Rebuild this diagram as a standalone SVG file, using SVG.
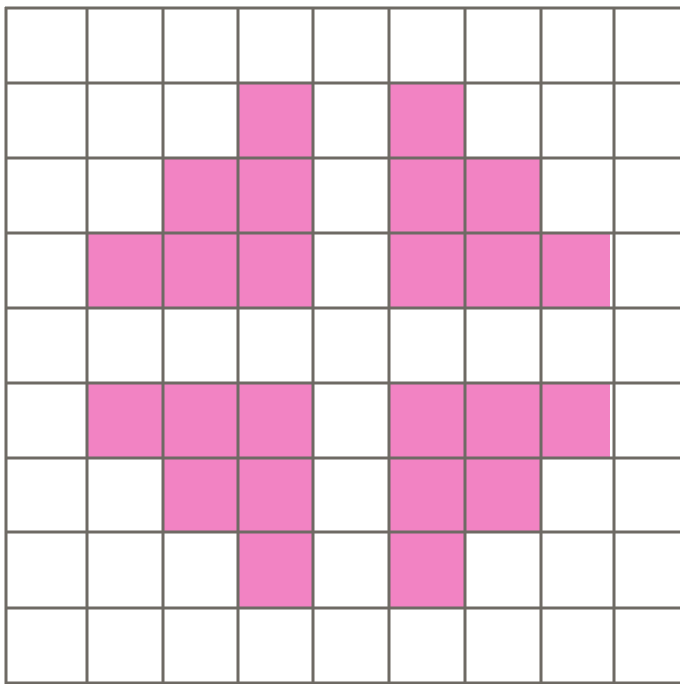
<svg xmlns="http://www.w3.org/2000/svg" width="680" height="684" viewBox="0 0 680 684">
<style>
.cell{fill:#f283c3}
.ln{stroke:#6e6a64;stroke-width:3;fill:none}
</style>
<rect width="680" height="684" fill="#ffffff"/>
<g id="cells">
<!-- row 1 -->
<rect class="cell" x="238" y="83" width="75" height="75"/>
<rect class="cell" x="389" y="83" width="76" height="75"/>
<!-- row 2 -->
<rect class="cell" x="163" y="158" width="75" height="75"/>
<rect class="cell" x="238" y="158" width="75" height="75"/>
<rect class="cell" x="389" y="158" width="76" height="75"/>
<rect class="cell" x="465" y="158" width="76" height="75"/>
<!-- row 3 -->
<rect class="cell" x="87" y="233" width="76" height="75"/>
<rect class="cell" x="163" y="233" width="75" height="75"/>
<rect class="cell" x="238" y="233" width="75" height="75"/>
<rect class="cell" x="389" y="233" width="76" height="75"/>
<rect class="cell" x="465" y="233" width="76" height="75"/>
<rect class="cell" x="541" y="233" width="69" height="75"/>
<!-- row 5 -->
<rect class="cell" x="87" y="383" width="76" height="75"/>
<rect class="cell" x="163" y="383" width="75" height="75"/>
<rect class="cell" x="238" y="383" width="75" height="75"/>
<rect class="cell" x="389" y="383" width="76" height="75"/>
<rect class="cell" x="465" y="383" width="76" height="75"/>
<rect class="cell" x="541" y="383" width="69" height="75"/>
<!-- row 6 -->
<rect class="cell" x="163" y="458" width="75" height="74"/>
<rect class="cell" x="238" y="458" width="75" height="74"/>
<rect class="cell" x="389" y="458" width="76" height="74"/>
<rect class="cell" x="465" y="458" width="76" height="74"/>
<!-- row 7 -->
<rect class="cell" x="238" y="532" width="75" height="76"/>
<rect class="cell" x="389" y="532" width="76" height="76"/>
</g>
<g id="grid" class="ln">
<line x1="6" y1="7" x2="6" y2="684"/>
<line x1="87" y1="7" x2="87" y2="684"/>
<line x1="163" y1="7" x2="163" y2="684"/>
<line x1="238" y1="7" x2="238" y2="684"/>
<line x1="313" y1="7" x2="313" y2="684"/>
<line x1="389" y1="7" x2="389" y2="684"/>
<line x1="465" y1="7" x2="465" y2="684"/>
<line x1="541" y1="7" x2="541" y2="684"/>
<line x1="614" y1="7" x2="614" y2="684"/>
<line x1="5" y1="8" x2="680" y2="8"/>
<line x1="5" y1="83" x2="680" y2="83"/>
<line x1="5" y1="158" x2="680" y2="158"/>
<line x1="5" y1="233" x2="680" y2="233"/>
<line x1="5" y1="308" x2="680" y2="308"/>
<line x1="5" y1="383" x2="680" y2="383"/>
<line x1="5" y1="458" x2="680" y2="458"/>
<line x1="5" y1="532" x2="680" y2="532"/>
<line x1="5" y1="608" x2="680" y2="608"/>
<line x1="5" y1="683" x2="680" y2="683"/>
</g>
</svg>
